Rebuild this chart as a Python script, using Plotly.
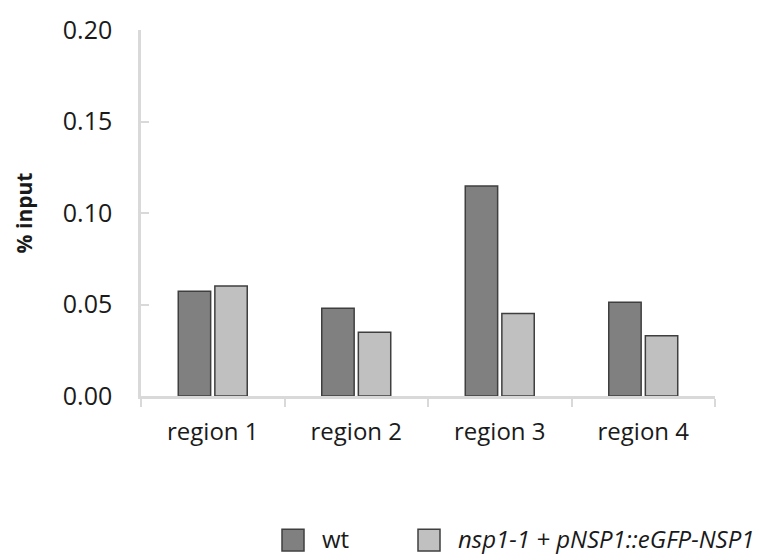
import plotly.graph_objects as go

categories = ["region 1", "region 2", "region 3", "region 4"]
series_names = ["wt", "nsp1-1 + pNSP1::eGFP-NSP1"]
wt_values = [0.0573, 0.0480, 0.1148, 0.0512]
nsp_values = [0.0601, 0.0349, 0.0451, 0.0329]
y_ticks = [0.00, 0.05, 0.10, 0.15, 0.20]
y_tick_labels = ["0.00", "0.05", "0.10", "0.15", "0.20"]

colors = ["#808080", "#c0c0c0"]
border = "#3f3f3f"
FONT = "Open Sans"
TXT = "#1a1a1a"

W, H = 761, 555
L, R, T, B = 141, 46, 25, 159
PW, PH = W - L - R, H - T - B


def px(x):
    return (x - L) / PW


def py(y):
    return (H - B - y) / PH


fig = go.Figure()
fig.add_trace(go.Bar(x=categories, y=wt_values, name=series_names[0],
                     marker=dict(color=colors[0], line=dict(color=border, width=1.5)),
                     showlegend=False))
fig.add_trace(go.Bar(x=categories, y=nsp_values, name=series_names[1],
                     marker=dict(color=colors[1], line=dict(color=border, width=1.5)),
                     showlegend=False))

# legend drawn with large swatches like the reference
legend_items = [
    (series_names[0], colors[0], 282, False),
    (series_names[1], colors[1], 418, True),
]
for name, col, x0, italic in legend_items:
    fig.add_shape(type="rect", xref="paper", yref="paper",
                  x0=px(x0), x1=px(x0 + 22), y0=py(553), y1=py(531),
                  fillcolor=col, line=dict(color=border, width=1.5))
    fig.add_annotation(xref="paper", yref="paper",
                       x=px(x0 + 38), y=py(540),
                       xanchor="left", yanchor="middle", showarrow=False,
                       text=f"<i>{name}</i>" if italic else name,
                       font=dict(family=FONT, size=24, color=TXT))

fig.update_layout(
    width=W, height=H,
    margin=dict(l=L, r=R, t=T, b=B),
    paper_bgcolor="white", plot_bgcolor="white",
    barmode="group", bargap=0.49, bargroupgap=0.115,
    font=dict(family=FONT, size=24, color=TXT),
)
fig.update_xaxes(
    showline=True, linecolor="#d9d9d9", linewidth=2.5,
    ticks="outside", tickson="boundaries", ticklen=8, tickcolor="#d9d9d9", tickwidth=2,
    showgrid=False, ticklabelstandoff=12,
    tickfont=dict(family=FONT, size=24, color=TXT),
)
fig.update_yaxes(
    range=[0, 0.2], tickvals=y_ticks, ticktext=y_tick_labels,
    showline=True, linecolor="#d9d9d9", linewidth=2.5,
    ticks="inside", ticklen=8, tickcolor="#d9d9d9", tickwidth=2,
    showgrid=False, zeroline=False, ticklabelstandoff=21,
    tickfont=dict(family=FONT, size=25, color=TXT),
    title=dict(text="<b>% input</b>", standoff=25,
               font=dict(family=FONT, size=21, color=TXT)),
)

fig.write_html("out.html", config={"displayModeBar": False},
               post_script="document.body.style.margin='0px';")
